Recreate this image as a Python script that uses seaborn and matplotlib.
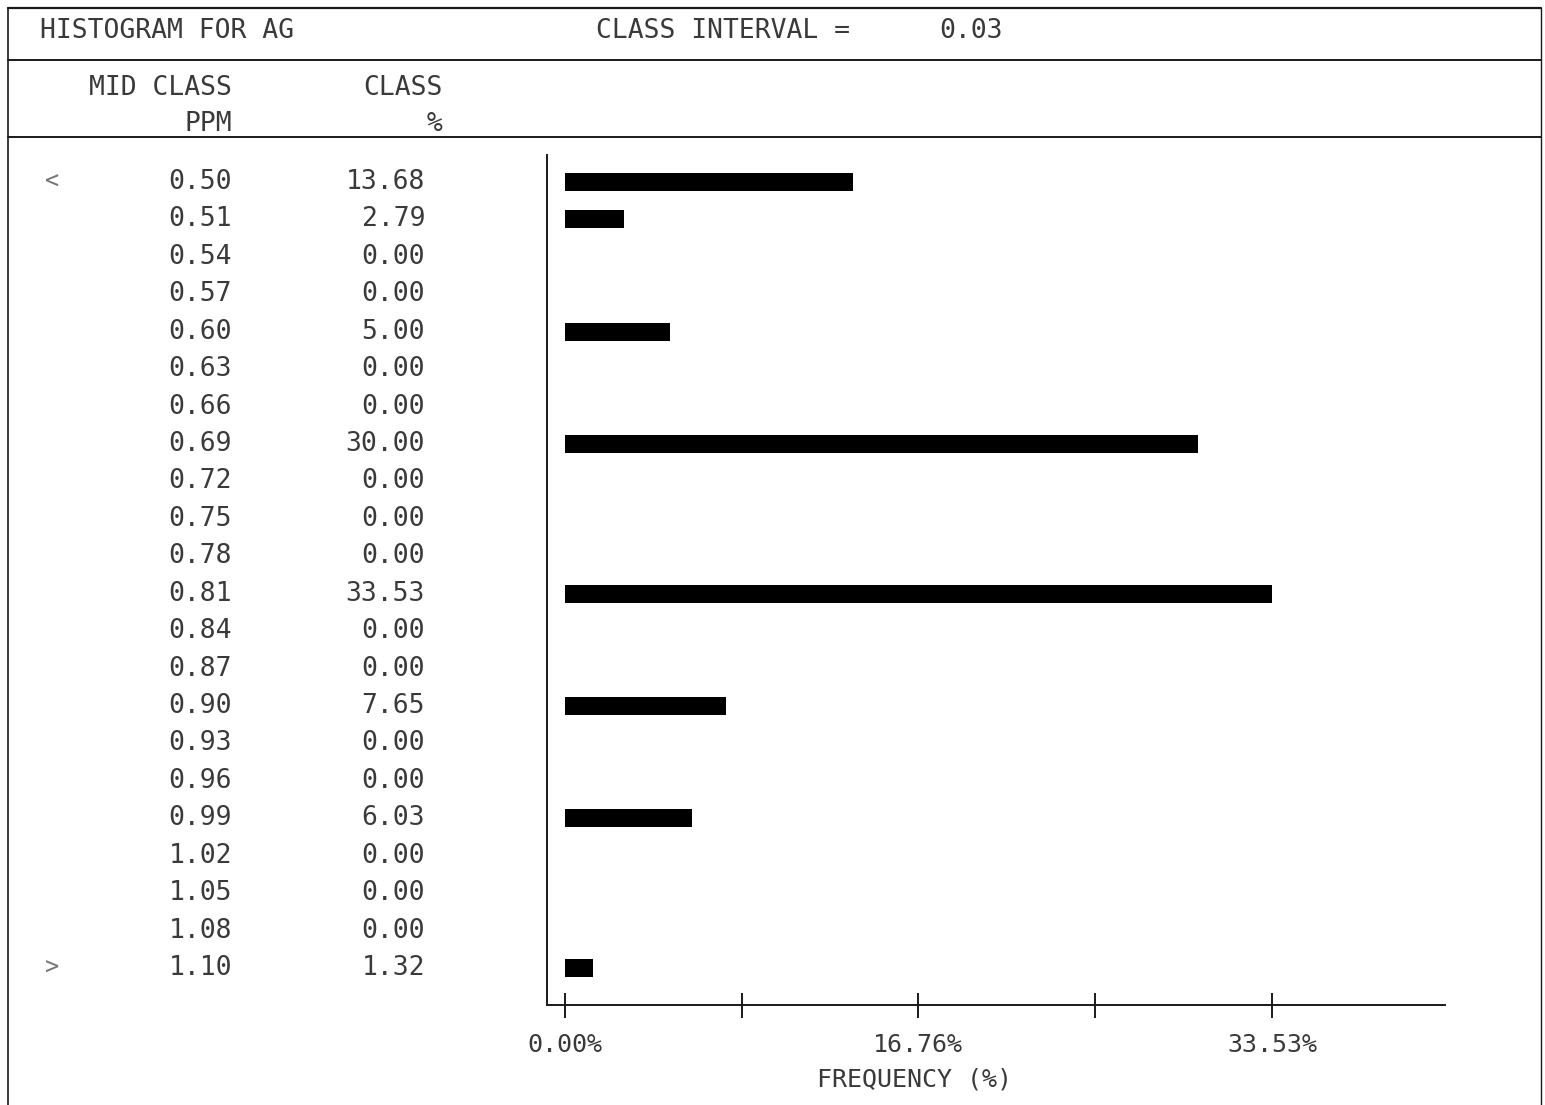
import matplotlib
matplotlib.use("Agg")
import matplotlib.pyplot as plt
from matplotlib.lines import Line2D
from matplotlib.transforms import blended_transform_factory
import pandas as pd
import seaborn as sns

# Class midpoints (ppm) and the share of samples in each class (%)
mid_class = ["0.50", "0.51", "0.54", "0.57", "0.60", "0.63", "0.66", "0.69",
             "0.72", "0.75", "0.78", "0.81", "0.84", "0.87", "0.90", "0.93",
             "0.96", "0.99", "1.02", "1.05", "1.08", "1.10"]
class_pct = [13.68, 2.79, 0.00, 0.00, 5.00, 0.00, 0.00, 30.00,
             0.00, 0.00, 0.00, 33.53, 0.00, 0.00, 7.65, 0.00,
             0.00, 6.03, 0.00, 0.00, 0.00, 1.32]
# open-ended classes at both ends
class_flag = ["<"] + [""] * 20 + [">"]

freq_ticks = [0.00, 8.38, 16.76, 25.15, 33.53]
freq_tick_labels = ["0.00%", "", "16.76%", "", "33.53%"]

df = pd.DataFrame({"mid": mid_class, "pct": class_pct})

sns.set_theme(style="white")
MONO = ["DejaVu Sans Mono"]
plt.rcParams["font.family"] = MONO
INK = "#1a1a1a"
TXT = "#3a3a3a"
FS = 19

W, H = 1545, 1105
fig = plt.figure(figsize=(W / 100, H / 100), dpi=100)
fig.patch.set_facecolor("white")


def fx(px):
    return px / W


def fy(py):
    return 1 - py / H


# plotting area: from the vertical axis (x=547) to the end of the scale line
ax_left, ax_right = 547, 1445
ax_top, ax_bottom = 155, 1005
ax = fig.add_axes([fx(ax_left), fy(ax_bottom),
                   fx(ax_right) - fx(ax_left), (ax_bottom - ax_top) / H])

sns.barplot(data=df, x="pct", y="mid", orient="h", color="black",
            width=0.48, saturation=1, edgecolor="none", linewidth=0, ax=ax)

ax.set_xlim(-0.85, 41.73)
ax.set_ylim(21.99, -0.72)
ax.set_facecolor("none")

for s in ["top", "right"]:
    ax.spines[s].set_visible(False)
for s in ["left", "bottom"]:
    ax.spines[s].set_color(INK)
    ax.spines[s].set_linewidth(1.4)

ax.set_yticks([])
ax.set_ylabel("")
ax.set_xticks(freq_ticks)
ax.set_xticklabels(freq_tick_labels, fontsize=FS - 1, color=TXT, family=MONO)
ax.tick_params(axis="x", direction="inout", length=18, width=1.4,
               color=INK, pad=11, bottom=True)
ax.set_xlabel("")
fig.text(fx(915), fy(1080), "FREQUENCY (%)", ha="center", va="center",
         fontsize=FS - 1, color=TXT, family=MONO)

# row labels to the left of the bars
tr = blended_transform_factory(fig.transFigure, ax.transData)
for i, (flag, m, p) in enumerate(zip(class_flag, mid_class, class_pct)):
    if flag:
        ax.text(fx(45), i, flag, transform=tr, ha="left", va="center",
                fontsize=FS - 2, color="#777777", family=MONO, clip_on=False)
    ax.text(fx(232), i, m, transform=tr, ha="right", va="center",
            fontsize=FS, color=TXT, family=MONO, clip_on=False)
    ax.text(fx(425), i, f"{p:.2f}", transform=tr, ha="right", va="center",
            fontsize=FS, color=TXT, family=MONO, clip_on=False)

# header block
fig.text(fx(40), fy(31), "HISTOGRAM FOR AG", ha="left", va="center",
         fontsize=FS, color=TXT, family=MONO)
fig.text(fx(850), fy(31), "CLASS INTERVAL =", ha="right", va="center",
         fontsize=FS, color=TXT, family=MONO)
fig.text(fx(1003), fy(31), "0.03", ha="right", va="center",
         fontsize=FS, color=TXT, family=MONO)
fig.text(fx(232), fy(88), "MID CLASS", ha="right", va="center",
         fontsize=FS, color=TXT, family=MONO)
fig.text(fx(443), fy(88), "CLASS", ha="right", va="center",
         fontsize=FS, color=TXT, family=MONO)
fig.text(fx(232), fy(124), "PPM", ha="right", va="center",
         fontsize=FS, color=TXT, family=MONO)
fig.text(fx(443), fy(124), "%", ha="right", va="center",
         fontsize=FS, color=TXT, family=MONO)

# ruled frame
frame = [
    ((8, 1541), (8, 8), 1.6),
    ((8, 1541), (60, 60), 1.4),
    ((8, 1541), (137, 137), 1.4),
    ((8, 8), (8, 1105), 1.2),
    ((1541, 1541), (8, 1105), 1.0),
]
for xs, ys, lw in frame:
    fig.add_artist(Line2D([fx(xs[0]), fx(xs[1])], [fy(ys[0]), fy(ys[1])],
                          transform=fig.transFigure, color=INK, lw=lw))

fig.savefig("out.png", dpi=100, facecolor="white")
